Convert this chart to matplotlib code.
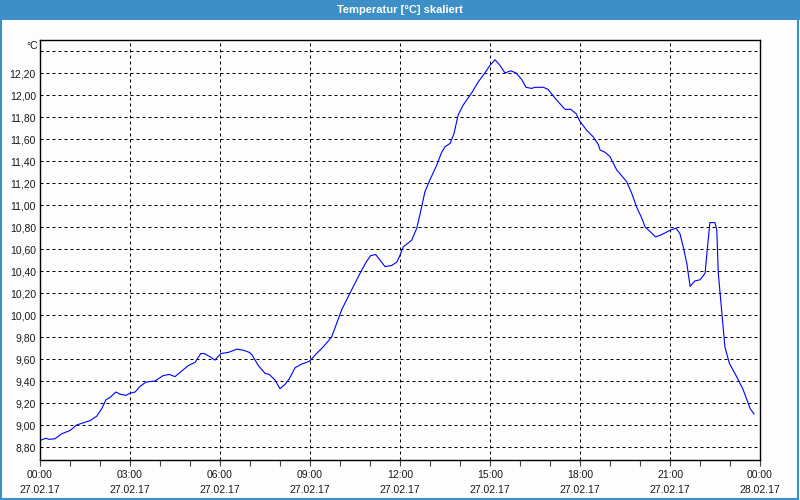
import numpy as np
import matplotlib
matplotlib.use("Agg")
import matplotlib.pyplot as plt
from matplotlib.patches import Rectangle
from matplotlib.ticker import FixedLocator, MultipleLocator

# hours since 27.02.17 00:00 and temperature in degC
hours = [0.00, 0.20, 0.30, 0.50, 0.72, 1.00, 1.22, 1.44, 1.67, 1.89,
         2.06, 2.20, 2.33, 2.53, 2.67, 2.87, 3.00, 3.17, 3.33, 3.53,
         3.83, 4.11, 4.31, 4.50, 4.72, 4.94, 5.17, 5.36, 5.47, 5.67,
         5.83, 6.03, 6.28, 6.56, 6.78, 6.98, 7.06, 7.28, 7.50, 7.64,
         7.83, 8.00, 8.17, 8.31, 8.50, 8.69, 8.98, 9.22, 9.44, 9.72,
         10.06, 10.39, 10.67, 10.87, 11.02, 11.19, 11.33, 11.50, 11.72, 11.89,
         11.98, 12.11, 12.39, 12.56, 12.72, 12.83, 13.00, 13.22, 13.39, 13.50,
         13.67, 13.80, 13.94, 14.11, 14.39, 14.61, 14.83, 15.00, 15.17, 15.33,
         15.50, 15.69, 15.87, 16.06, 16.20, 16.39, 16.50, 16.78, 16.94, 17.17,
         17.50, 17.69, 17.87, 18.00, 18.22, 18.44, 18.61, 18.67, 18.83, 19.00,
         19.22, 19.44, 19.56, 19.72, 19.89, 20.06, 20.17, 20.33, 20.52, 20.72,
         21.00, 21.20, 21.33, 21.44, 21.56, 21.67, 21.83, 22.00, 22.17, 22.24,
         22.33, 22.50, 22.56, 22.61, 22.72, 22.83, 22.98, 23.22, 23.44, 23.56,
         23.67, 23.80]
temps = [8.86, 8.88, 8.87, 8.875, 8.92, 8.95, 9.00, 9.02, 9.04, 9.08,
         9.15, 9.23, 9.25, 9.30, 9.28, 9.27, 9.29, 9.30, 9.35, 9.39,
         9.40, 9.45, 9.46, 9.44, 9.49, 9.54, 9.57, 9.65, 9.65, 9.62,
         9.59, 9.65, 9.66, 9.69, 9.68, 9.66, 9.64, 9.54, 9.47, 9.46,
         9.41, 9.33, 9.37, 9.42, 9.52, 9.55, 9.58, 9.65, 9.71, 9.80,
         10.05, 10.23, 10.38, 10.48, 10.54, 10.55, 10.50, 10.44, 10.45, 10.48,
         10.53, 10.62, 10.68, 10.79, 10.98, 11.12, 11.23, 11.36, 11.48, 11.53,
         11.56, 11.65, 11.82, 11.91, 12.02, 12.12, 12.20, 12.27, 12.32, 12.27,
         12.20, 12.22, 12.20, 12.14, 12.07, 12.06, 12.07, 12.07, 12.05, 11.97,
         11.87, 11.87, 11.83, 11.76, 11.68, 11.62, 11.55, 11.50, 11.48, 11.44,
         11.32, 11.25, 11.21, 11.11, 10.98, 10.88, 10.80, 10.76, 10.71, 10.73,
         10.77, 10.79, 10.74, 10.62, 10.47, 10.26, 10.31, 10.32, 10.38, 10.59,
         10.84, 10.84, 10.77, 10.38, 10.05, 9.71, 9.56, 9.44, 9.32, 9.23,
         9.15, 9.10]

y_ticks = [8.8, 9.0, 9.2, 9.4, 9.6, 9.8, 10.0, 10.2, 10.4, 10.6,
           10.8, 11.0, 11.2, 11.4, 11.6, 11.8, 12.0, 12.2, 12.4]
x_ticks = [0, 3, 6, 9, 12, 15, 18, 21, 24]
x_labels = ["00:00\n27.02.17", "03:00\n27.02.17", "06:00\n27.02.17",
            "09:00\n27.02.17", "12:00\n27.02.17", "15:00\n27.02.17",
            "18:00\n27.02.17", "21:00\n27.02.17", "00:00\n28.02.17"]

bg = "#fcfdfc"
bar_blue = "#3d8fc6"
font = "Liberation Sans"

fig = plt.figure(figsize=(8, 5), dpi=100, facecolor=bg)

# window title bar and frame
fig.patches.append(Rectangle((0, 0.96), 1, 0.04, transform=fig.transFigure,
                             facecolor=bar_blue, edgecolor="none", zorder=0))
fig.patches.append(Rectangle((0.001, 0.002), 0.997, 0.996, transform=fig.transFigure,
                             facecolor="none", edgecolor=bar_blue, lw=1.5, zorder=0))
fig.text(0.5, 0.98, "Temperatur [°C] skaliert", color="white", fontsize=8,
         fontweight="bold", ha="center", va="center", family=font)

ax = fig.add_axes([0.05, 0.08, 0.90, 0.84])
ax.set_facecolor(bg)
ax.plot(hours, temps, color="#0000ff", lw=0.8)

ax.set_xlim(0, 24)
ax.set_ylim(8.682, 12.5)

ax.xaxis.set_major_locator(FixedLocator(x_ticks))
ax.set_xticklabels(x_labels)
ax.xaxis.set_minor_locator(MultipleLocator(1))
ax.set_yticks(y_ticks)
ax.set_yticklabels([f"{v:.2f}".replace(".", ",") if v < 12.3 else "" for v in y_ticks])

ax.grid(True, which="major", color="black", lw=0.72, linestyle=(0, (3, 3)))
ax.tick_params(axis="x", which="both", length=4, width=0.8, color="#444444",
               pad=3, labelsize=7.5, labelcolor="#1a1a1a")
ax.tick_params(axis="y", length=0, pad=3, labelsize=7.5, labelcolor="#1a1a1a")
for lbl in ax.get_xticklabels() + ax.get_yticklabels():
    lbl.set_family(font)
    lbl.set_linespacing(1.6)
for sp in ax.spines.values():
    sp.set_linewidth(1.0)
    sp.set_color("black")

fig.text(0.0475, 0.908, "°C", fontsize=7.5, ha="right", va="center",
         color="#1a1a1a", family=font)

fig.savefig("out.png", dpi=100, facecolor=bg)
